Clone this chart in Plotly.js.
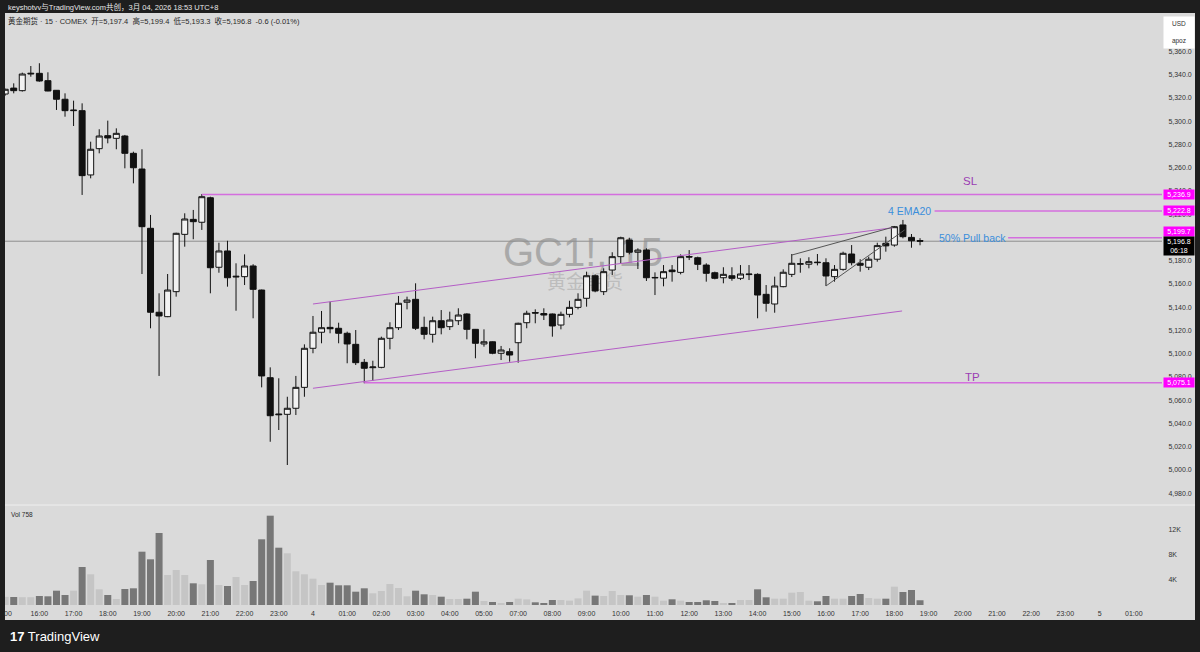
<!DOCTYPE html>
<html>
<head>
<meta charset="utf-8">
<script src="https://cdn.plot.ly/plotly-3.0.1.min.js"></script>
<style>
html,body{margin:0;padding:0;background:#1e1e1e;overflow:hidden;}
#chart{width:1200px;height:652px;}
</style>
</head>
<body>
<div id="chart"></div>
<script>
// ---------- DATA (15-min bars, GC1! COMEX, from 3月03 15:00 to 3月04 18:45) ----------
const openP = [
5323.4,5328.5,5326.3,5340.6,5341.2,5334.9,5326.6,5318.9,5309.1,5309.1,
5253.8,5276.4,5287.6,5285.3,5287.3,5272.4,5258.9,5207.9,5135.7,5131.9,
5153.4,5202.7,5215.6,5213.1,5234.2,5174.4,5188.4,5166.0,5166.3,5175.5,
5154.8,5079.4,5048.2,5047.9,5053.1,5071.1,5104.7,5118.5,5122.7,5121.9,
5117.6,5108.1,5092.6,5088.0,5088.3,5113.3,5122.4,5144.3,5146.8,5122.7,
5116.7,5128.4,5123.3,5128.4,5134.2,5121.0,5108.4,5110.3,5100.4,5101.8,
5109.5,5126.7,5135.4,5134.6,5134.2,5124.7,5133.9,5139.9,5147.7,5167.1,
5153.4,5172.0,5183.5,5197.8,5187.3,5189.2,5165.2,5165.0,5172.0,5170.0,
5183.6,5182.6,5176.3,5169.7,5165.4,5167.1,5164.9,5168.1,5168.3,5151.1,
5142.8,5157.7,5168.3,5177.0,5177.0,5178.8,5178.3,5166.3,5172.6,5185.8,
5177.8,5174.4,5181.3,5195.0,5193.5,5210.8,5200.1,5197.4];
const highP = [
5328.0,5332.6,5341.8,5347.5,5349.9,5342.1,5326.8,5324.0,5317.7,5315.4,
5282.4,5293.1,5300.5,5293.9,5288.2,5273.8,5275.9,5219.4,5152.0,5168.6,
5204.1,5220.8,5223.7,5237.4,5235.1,5195.5,5197.2,5177.8,5185.5,5177.0,
5155.2,5088.3,5078.9,5063.0,5080.9,5108.1,5132.5,5136.8,5144.8,5126.7,
5119.0,5120.4,5095.5,5094.0,5114.7,5127.1,5149.7,5149.1,5160.6,5131.9,
5131.9,5137.6,5136.2,5139.1,5134.8,5121.3,5121.0,5110.6,5106.7,5104.7,
5126.7,5137.0,5138.2,5139.1,5134.6,5136.2,5145.6,5152.0,5170.6,5168.3,
5173.5,5187.3,5200.7,5199.8,5190.7,5190.7,5170.0,5176.3,5176.3,5185.5,
5189.2,5183.5,5177.8,5170.6,5174.4,5174.4,5176.3,5176.3,5169.2,5159.1,
5166.3,5172.6,5185.8,5182.1,5183.0,5185.8,5182.1,5176.3,5187.8,5193.5,
5181.3,5183.5,5195.5,5200.7,5209.9,5215.1,5203.0,5199.4];
const lowP = [
5322.0,5324.0,5325.5,5338.3,5334.0,5325.8,5309.7,5303.9,5295.9,5236.6,
5250.9,5272.4,5281.0,5275.9,5259.5,5246.6,5168.6,5121.9,5080.9,5131.5,
5149.1,5192.1,5198.5,5206.5,5152.0,5169.7,5157.7,5137.0,5159.1,5130.5,
5071.1,5024.3,5034.4,5004.3,5047.3,5063.0,5100.4,5109.0,5117.6,5109.0,
5091.8,5090.3,5074.6,5076.8,5087.5,5103.8,5120.4,5138.2,5120.4,5112.4,
5109.6,5116.7,5120.4,5124.7,5112.4,5096.1,5106.1,5099.6,5094.6,5093.2,
5092.3,5121.9,5126.2,5129.0,5114.7,5121.0,5131.3,5138.2,5140.5,5152.9,
5150.5,5167.7,5177.8,5185.5,5172.9,5162.6,5150.5,5158.0,5162.0,5168.3,
5180.6,5172.0,5162.0,5164.0,5160.6,5162.8,5163.4,5163.4,5130.5,5136.2,
5135.3,5157.2,5166.0,5169.7,5173.5,5176.0,5158.3,5162.0,5171.4,5176.0,
5170.6,5172.0,5179.2,5187.8,5192.1,5199.3,5191.2,5193.3];
const closeP = [
5327.5,5326.3,5340.6,5341.2,5334.6,5326.0,5318.9,5309.1,5309.5,5253.2,
5275.9,5287.3,5285.6,5289.6,5272.4,5260.0,5209.3,5135.7,5132.5,5154.8,
5203.6,5215.9,5213.6,5235.1,5174.0,5188.4,5165.4,5166.6,5175.5,5155.4,
5080.9,5046.7,5047.6,5053.1,5071.1,5104.7,5118.5,5122.4,5121.5,5117.6,
5108.4,5092.3,5087.5,5088.6,5113.3,5122.4,5143.4,5146.2,5121.9,5116.7,
5128.4,5122.4,5129.0,5133.3,5121.0,5109.0,5110.3,5100.4,5103.2,5098.9,
5126.2,5134.8,5135.0,5133.3,5123.9,5133.9,5139.9,5146.8,5167.1,5154.0,
5170.6,5183.5,5199.8,5187.3,5189.2,5165.4,5165.6,5170.6,5170.6,5183.5,
5183.2,5176.9,5169.2,5164.9,5168.3,5164.9,5168.6,5168.5,5150.5,5143.4,
5158.3,5170.1,5177.8,5177.4,5179.2,5178.4,5166.9,5172.6,5186.4,5178.3,
5176.1,5181.3,5193.0,5192.8,5209.3,5200.7,5197.2,5196.8];
const volume = [
1300,1280,1250,1250,1440,1390,2290,1600,2290,6080,
4910,2510,1600,960,2560,2670,8530,7310,11520,4800,
5600,4800,3470,3310,7200,3200,3040,4480,3200,3840,
10510,14290,9170,8270,5390,4910,4210,3200,3570,3150,
3150,2130,2670,1870,2240,3360,2720,1390,2290,1710,
1600,1330,960,960,1010,2130,640,480,320,480,
1010,900,430,320,800,800,700,1060,2290,1500,
1440,2240,1600,1550,1330,1600,1330,690,910,690,
480,480,750,640,320,320,800,800,2510,1230,
1010,1010,1970,2080,690,590,1440,1010,1010,1440,
1760,1120,1010,1010,2930,2080,2400,758];

// time-axis labels (bar index -> label; 06:00-07:00 is the daily halt)
const timeTickIdx  = [4,8,12,16,20,24,28,32,36,40,44,48,52,56,60,64,68,72,76,80,84,88,92,96,100,104,108,112,116,120,124,128,132];
const timeTickText = ["16:00","17:00","18:00","19:00","20:00","21:00","22:00","23:00","4","01:00","02:00","03:00","04:00","05:00","07:00","08:00","09:00","10:00","11:00","12:00","13:00","14:00","15:00","16:00","17:00","18:00","19:00","20:00","21:00","22:00","23:00","5","01:00"];
// price scale labels (5,200.0 is hidden behind the price tags in the original)
const priceTicks = [4980,5000,5020,5040,5060,5080,5100,5120,5140,5160,5180,5220,5240,5260,5280,5300,5320,5340,5360];
const volTicks = [4000,8000,12000];
const volTickText = ["4K","8K","12K"];

// drawn levels
const levelSL = 5236.9, levelEMA = 5222.8, levelPull = 5199.7, levelTP = 5075.1, lastPrice = 5196.8;
// channel / wedge endpoints [barIdx0, price0, barIdx1, price1]
const channelUpper = [36, 5142.8, 103.8, 5208.4];
const channelLower = [36, 5070.3, 104.9, 5136.8];
const wedgeUpper = [92.0, 5184.9, 103.8, 5208.8];
const wedgeLower = [96.0, 5158.3, 105.2, 5206.5];

// ---------- LAYOUT HELPERS ----------
const PL = 5, PR = 1162, PT = 13, PB = 605;
const xp = px => (px - PL) / (PR - PL);
const yp = py => (PB - py) / (PB - PT);
const XMAX = 135.3;
const FONT = 'Liberation Sans, Noto Sans CJK SC, sans-serif';

const xIdx = openP.map((_, i) => i);
const volColors = openP.map((o, i) => closeP[i] >= o ? '#c5c5c5' : '#777777');

const traces = [
  {
    type: 'bar', x: xIdx, y: volume, xaxis: 'x', yaxis: 'y2',
    marker: {color: volColors, line: {width: 0}}, hoverinfo: 'skip'
  },
  {
    type: 'candlestick', x: xIdx, open: openP, high: highP, low: lowP, close: closeP,
    xaxis: 'x', yaxis: 'y', whiskerwidth: 0,
    increasing: {line: {color: '#111111', width: 1}, fillcolor: '#f2f2f2'},
    decreasing: {line: {color: '#111111', width: 1}, fillcolor: '#111111'},
    hoverinfo: 'skip'
  }
];

const pink = '#d46ede', chan = '#b45ec6', gray = '#555555';
function seg(a, color, w) {
  return {type: 'line', xref: 'x', yref: 'y', x0: a[0], y0: a[1], x1: a[2], y1: a[3], line: {color: color, width: w}};
}
function hline(x0, y, color, w) {
  return {type: 'line', xref: 'x', yref: 'y', x0: x0, x1: XMAX, y0: y, y1: y, line: {color: color, width: w}};
}

const shapes = [
  {type: 'rect', xref: 'paper', yref: 'paper', x0: xp(5), x1: xp(1195), y0: yp(620), y1: yp(13), layer: 'below', line: {width: 0}, fillcolor: '#dadada'},
  {type: 'rect', xref: 'paper', yref: 'paper', x0: xp(500), x1: xp(666), y0: yp(268), y1: yp(228), layer: 'below', line: {width: 0}, fillcolor: 'rgba(0,0,0,0)',
    label: {text: 'GC1!, 15', textposition: 'middle center', font: {size: 40, color: '#a9a9a9', family: FONT}}},
  {type: 'rect', xref: 'paper', yref: 'paper', x0: xp(540), x1: xp(630), y0: yp(293), y1: yp(273), layer: 'below', line: {width: 0}, fillcolor: 'rgba(0,0,0,0)',
    label: {text: '黄金期货', textposition: 'middle center', font: {size: 19, color: '#bdbdbd', family: 'Noto Sans CJK SC'}}},
  {type: 'line', xref: 'x', yref: 'y', x0: -1, x1: XMAX, y0: lastPrice, y1: lastPrice, layer: 'below', line: {color: '#8e8e8e', width: 1}},
  {type: 'line', xref: 'paper', yref: 'paper', x0: 0, x1: xp(1195), y0: yp(505), y1: yp(505), line: {color: '#efefef', width: 1}},
  hline(23, levelSL, pink, 1.5),
  hline(108.7, levelEMA, pink, 1.5),
  hline(117.3, levelPull, pink, 1.5),
  hline(42, levelTP, pink, 1.5),
  seg(channelUpper, chan, 1),
  seg(channelLower, chan, 1),
  seg(wedgeUpper, gray, 1),
  seg(wedgeLower, gray, 1)
];

function priceBox(y, txt, bg, shift) {
  return {xref: 'paper', yref: 'y', x: xp(1163), y: y, yshift: shift || 0, xanchor: 'left', yanchor: 'middle',
    text: txt, showarrow: false, bgcolor: bg, borderpad: 1, width: 28, align: 'center',
    font: {size: 7, color: '#ffffff', family: FONT}};
}
function label(px, py, txt, color, size, anchor) {
  return {xref: 'paper', yref: 'paper', x: xp(px), y: yp(py), xanchor: anchor || 'center', yanchor: 'middle',
    text: txt, showarrow: false, font: {size: size, color: color, family: FONT}};
}

const annotations = [
  label(6, 7, 'keyshotvv与TradingView.com共创，3月 04, 2026 18:53 UTC+8', '#e6e6e6', 7.5, 'left'),
  label(6, 21, '黄金期货 · 15 · COMEX  开=5,197.4  高=5,199.4  低=5,193.3  收=5,196.8  -0.6 (-0.01%)', '#2a2a2a', 7.5, 'left'),
  label(9, 514, 'Vol 758', '#2a2a2a', 6.5, 'left'),
  label(8, 613, '00', '#333333', 7, 'center'),
  label(8, 636, '<b>17</b> TradingView', '#ffffff', 13, 'left'),
  label(970, 181, 'SL', '#9b3db3', 11.5),
  label(909, 211, '4 EMA20', '#3b8edb', 10.5),
  label(972, 238, '50% Pull back', '#3b8edb', 10.5),
  label(972, 377, 'TP', '#9b3db3', 11.5),
  priceBox(levelSL, '5,236.9', '#ff00ff'),
  priceBox(levelEMA, '5,222.8', '#ff00ff'),
  priceBox(levelPull, '5,199.7', '#ff00ff', 6),
  priceBox(lastPrice, '5,196.8<br>06:18', '#000000', -5),
  priceBox(levelTP, '5,075.1', '#ff00ff'),
  {xref: 'paper', yref: 'paper', x: xp(1163), y: yp(16), xanchor: 'left', yanchor: 'top', text: 'USD<br><br>apoz',
    showarrow: false, bgcolor: '#ffffff', borderpad: 3, width: 24, align: 'center', font: {size: 6.5, color: '#333333', family: FONT}}
];

const axFont = {size: 7, color: '#333333', family: FONT};
const layout = {
  width: 1200, height: 652,
  margin: {l: PL, r: 1200 - PR, t: PT, b: 652 - PB, pad: 0},
  paper_bgcolor: '#1e1e1e', plot_bgcolor: 'rgba(0,0,0,0)',
  showlegend: false, bargap: 0.18, boxgap: 0.3, boxgroupgap: 0,
  xaxis: {range: [-0.02, XMAX], anchor: 'y2', tickvals: timeTickIdx, ticktext: timeTickText, tickfont: axFont,
    ticks: 'outside', ticklen: 2, tickcolor: 'rgba(0,0,0,0)', showgrid: false, zeroline: false, showline: false,
    rangeslider: {visible: false}, fixedrange: true},
  yaxis: {domain: [yp(505), 1], range: [4969.9, 5393.1], side: 'right', tickvals: priceTicks, tickformat: ',.1f',
    tickfont: axFont, ticks: 'outside', ticklen: 4, tickcolor: 'rgba(0,0,0,0)', showgrid: false, zeroline: false, showline: false, fixedrange: true},
  yaxis2: {domain: [0, yp(505)], range: [0, 16000], side: 'right', tickvals: volTicks, ticktext: volTickText,
    tickfont: axFont, ticks: 'outside', ticklen: 4, tickcolor: 'rgba(0,0,0,0)', showgrid: false, zeroline: false, showline: false, fixedrange: true},
  shapes: shapes,
  annotations: annotations
};

Plotly.newPlot('chart', traces, layout, {staticPlot: true, displayModeBar: false});
</script>
</body>
</html>
